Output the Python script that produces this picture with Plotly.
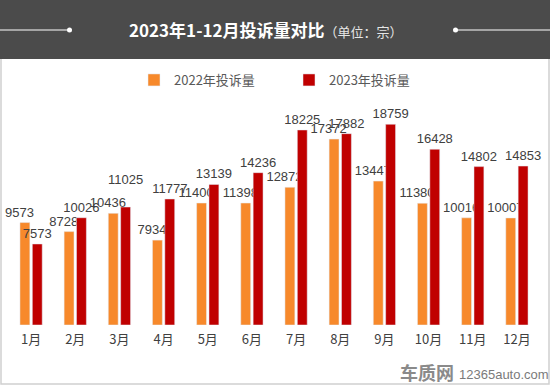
import plotly.graph_objects as go

months = ["1月", "2月", "3月", "4月", "5月", "6月", "7月", "8月", "9月", "10月", "11月", "12月"]
v2022 = [9573, 8728, 10436, 7934, 11400, 11398, 12872, 17372, 13447, 11380, 10016, 10007]
v2023 = [7573, 10026, 11025, 11777, 13139, 14236, 18225, 17882, 18759, 16428, 14802, 14853]
name2022 = "2022年投诉量"
name2023 = "2023年投诉量"
title_main = "2023年1-12月投诉量对比"
title_unit = "（单位：宗）"

W, H = 550, 386
ML, MR, MT, MB = 9, 11, 111, 61
PW, PH = W - ML - MR, H - MT - MB

def px(x):
    return (x - ML) / PW

def py(y):
    return (H - MB - y) / PH

FONT = "Noto Sans CJK SC, Microsoft YaHei, sans-serif"
NUMFONT = "Liberation Sans, Arial, sans-serif"
NB = "\u00a0"

# label styling: 2022 labels sit slightly left of their bars; 3月 2023 label lifted
text2022 = [f"{v}{NB*3}" for v in v2022]
text2023 = [f"{v}<br>{NB}" if m == "3月" else f"{v}" for m, v in zip(months, v2023)]

fig = go.Figure()
fig.add_trace(go.Bar(
    x=months, y=v2022, name=name2022, marker_color="#F7892B",
    text=text2022, textposition="outside", constraintext="none",
    textangle=0, cliponaxis=False, hoverinfo="x+y",
    textfont=dict(size=13, color="#404040", family=NUMFONT),
))
fig.add_trace(go.Bar(
    x=months, y=v2023, name=name2023, marker_color="#C00000",
    text=text2023, textposition="outside", constraintext="none",
    textangle=0, cliponaxis=False, hoverinfo="x+y",
    textfont=dict(size=13, color="#404040", family=NUMFONT),
))

shapes = [
    dict(type="rect", xref="paper", yref="paper", x0=px(1), x1=px(549), y0=py(384), y1=py(1),
         line=dict(color="#d0d0d0", width=1.5), fillcolor="rgba(0,0,0,0)", layer="below"),
    dict(type="rect", xref="paper", yref="paper", x0=px(0), x1=px(550), y0=py(59), y1=py(0),
         line=dict(width=0), fillcolor="#4b4b4b", layer="below"),
    dict(type="line", xref="paper", yref="paper", x0=px(0), x1=px(69), y0=py(30), y1=py(30),
         line=dict(color="white", width=1.2)),
    dict(type="line", xref="paper", yref="paper", x0=px(455), x1=px(550), y0=py(30), y1=py(30),
         line=dict(color="white", width=1.2)),
    dict(type="circle", xref="paper", yref="paper", x0=px(67), x1=px(72), y0=py(32.5), y1=py(27.5),
         line=dict(width=0), fillcolor="white"),
    dict(type="circle", xref="paper", yref="paper", x0=px(453), x1=px(458), y0=py(32.5), y1=py(27.5),
         line=dict(width=0), fillcolor="white"),
]

annotations = [
    dict(xref="paper", yref="paper", x=px(266), y=py(30), xanchor="center", yanchor="middle",
         showarrow=False,
         text=f"<b>{title_main}</b><span style='font-size:13px;color:#e6e6e6'>{title_unit}</span>",
         font=dict(size=17, color="white", family=FONT)),
    dict(xref="paper", yref="paper", x=px(455), y=py(372), xanchor="right", yanchor="middle",
         showarrow=False, text="<b>车质网</b>", borderpad=0,
         font=dict(size=18, color="#8a8a8a", family=FONT)),
    dict(xref="paper", yref="paper", x=px(458), y=py(374), xanchor="left", yanchor="middle",
         showarrow=False, text="12365auto.com", borderpad=0,
         font=dict(size=13, color="#7a7a7a", family=NUMFONT)),
]

fig.update_layout(
    width=W, height=H,
    margin=dict(l=ML, r=MR, t=MT, b=MB, pad=0),
    paper_bgcolor="white", plot_bgcolor="white",
    barmode="group", bargap=0.44, bargroupgap=0.2,
    font=dict(family=FONT, color="#404040"),
    showlegend=True,
    legend=dict(orientation="h", x=px(134), y=py(65), xanchor="left", yanchor="top",
                font=dict(size=13, color="#595959", family=FONT),
                entrywidth=110, entrywidthmode="pixels", bgcolor="rgba(0,0,0,0)"),
    xaxis=dict(showgrid=False, showline=False, zeroline=False, ticks="",
               ticklabelstandoff=5,
               tickfont=dict(size=13, color="#404040", family=FONT)),
    yaxis=dict(range=[0, 20000], visible=False, showgrid=False, zeroline=False),
    shapes=shapes, annotations=annotations,
)

fig.write_html("out.html", config={"displayModeBar": False},
               post_script="document.body.style.margin='0';document.body.style.overflow='hidden';")
